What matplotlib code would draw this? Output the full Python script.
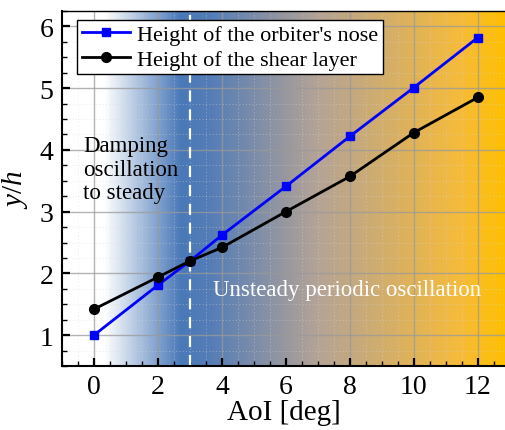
import numpy as np
import matplotlib
matplotlib.use("Agg")
import matplotlib.pyplot as plt
from matplotlib.colors import LinearSegmentedColormap
from matplotlib.ticker import MultipleLocator

plt.rcParams.update({
    "font.family": "serif",
    "font.serif": ["Liberation Serif", "DejaVu Serif"],
    "mathtext.fontset": "custom",
    "mathtext.rm": "Liberation Serif",
    "mathtext.it": "Liberation Serif:italic",
})

# ── Data ──────────────────────────────────────────────────────────────────────
aoi = [0, 2, 3, 4, 6, 8, 10, 12]
nose_height = [1.00, 1.81, 2.20, 2.62, 3.41, 4.22, 5.01, 5.82]
shear_height = [1.42, 1.94, 2.20, 2.42, 3.00, 3.57, 4.28, 4.85]
transition_aoi = 3
x_ticks = [0, 2, 4, 6, 8, 10, 12]
y_ticks = [1, 2, 3, 4, 5, 6]

fig = plt.figure(figsize=(5.05, 4.31), dpi=100)
ax = fig.add_axes([0.1228, 0.1485, 0.8772, 0.8237])

xlim = (-1, 12.85)
ylim = (0.5, 6.25)
ax.set_xlim(*xlim)
ax.set_ylim(*ylim)

# background gradient: white -> blue -> orange
def frac(v):
    return (v - xlim[0]) / (xlim[1] - xlim[0])

cmap = LinearSegmentedColormap.from_list("bg", [
    (0.0, "#ffffff"),
    (frac(0.3), "#ffffff"),
    (frac(2.7), "#4a79b8"),
    (frac(3.6), "#547db6"),
    (frac(7.0), "#b4a396"),
    (frac(11.5), "#f6bb3a"),
    (1.0, "#ffc000"),
])
grad = np.linspace(0, 1, 600).reshape(1, -1)
ax.imshow(grad, cmap=cmap, aspect="auto", extent=[xlim[0], xlim[1], ylim[0], ylim[1]],
          zorder=0, interpolation="bilinear")

ax.xaxis.set_minor_locator(MultipleLocator(0.5))
ax.yaxis.set_minor_locator(MultipleLocator(0.25))
ax.grid(which="major", color="#9a9a9a", linewidth=1.0, alpha=0.75, zorder=1)
ax.grid(which="minor", color="#d8d8d8", linewidth=0.6, linestyle=(0, (1.5, 2.5)), alpha=0.45, zorder=1)

ax.axvline(transition_aoi, color="white", linestyle=(0, (5, 3.5)), linewidth=1.6, zorder=2)

ax.plot(aoi, nose_height, color="#0000ff", linewidth=2.0, marker="s", markersize=6,
        label="Height of the orbiter's nose", zorder=4)
ax.plot(aoi, shear_height, color="black", linewidth=2.0, marker="o", markersize=7,
        label="Height of the shear layer", zorder=4)

ax.text(-0.35, 3.69, "Damping\noscillation\nto steady", fontsize=16.5, color="black",
        ha="left", va="center", linespacing=1.15, zorder=5)
ax.text(7.9, 1.74, "Unsteady periodic oscillation", fontsize=16.5, color="white",
        ha="center", va="center", zorder=5)

ax.set_xticks(x_ticks)
ax.set_yticks(y_ticks)
ax.tick_params(which="major", direction="in", length=6, width=1.6, labelsize=20,
               top=False, right=False, pad=6)
ax.tick_params(which="minor", direction="in", length=3.5, width=1.0, top=False, right=False)

ax.set_xlabel("AoI [deg]", fontsize=21, labelpad=0)
ax.set_ylabel(r"$y/h$", fontsize=21)
ax.yaxis.set_label_coords(-0.072, 0.5)

for side in ["left", "bottom"]:
    ax.spines[side].set_linewidth(1.5)
ax.spines["top"].set_linewidth(1.0)
ax.spines["right"].set_visible(False)

leg = ax.legend(loc="upper left", bbox_to_anchor=(0.034, 0.975), fontsize=16,
                frameon=True, fancybox=False, edgecolor="black", framealpha=1,
                borderpad=0.2, handlelength=2.2, handletextpad=0.3, labelspacing=0.2,
                borderaxespad=0)
leg.get_frame().set_linewidth(1.0)
leg.set_zorder(6)

fig.savefig("out.png", dpi=100)
